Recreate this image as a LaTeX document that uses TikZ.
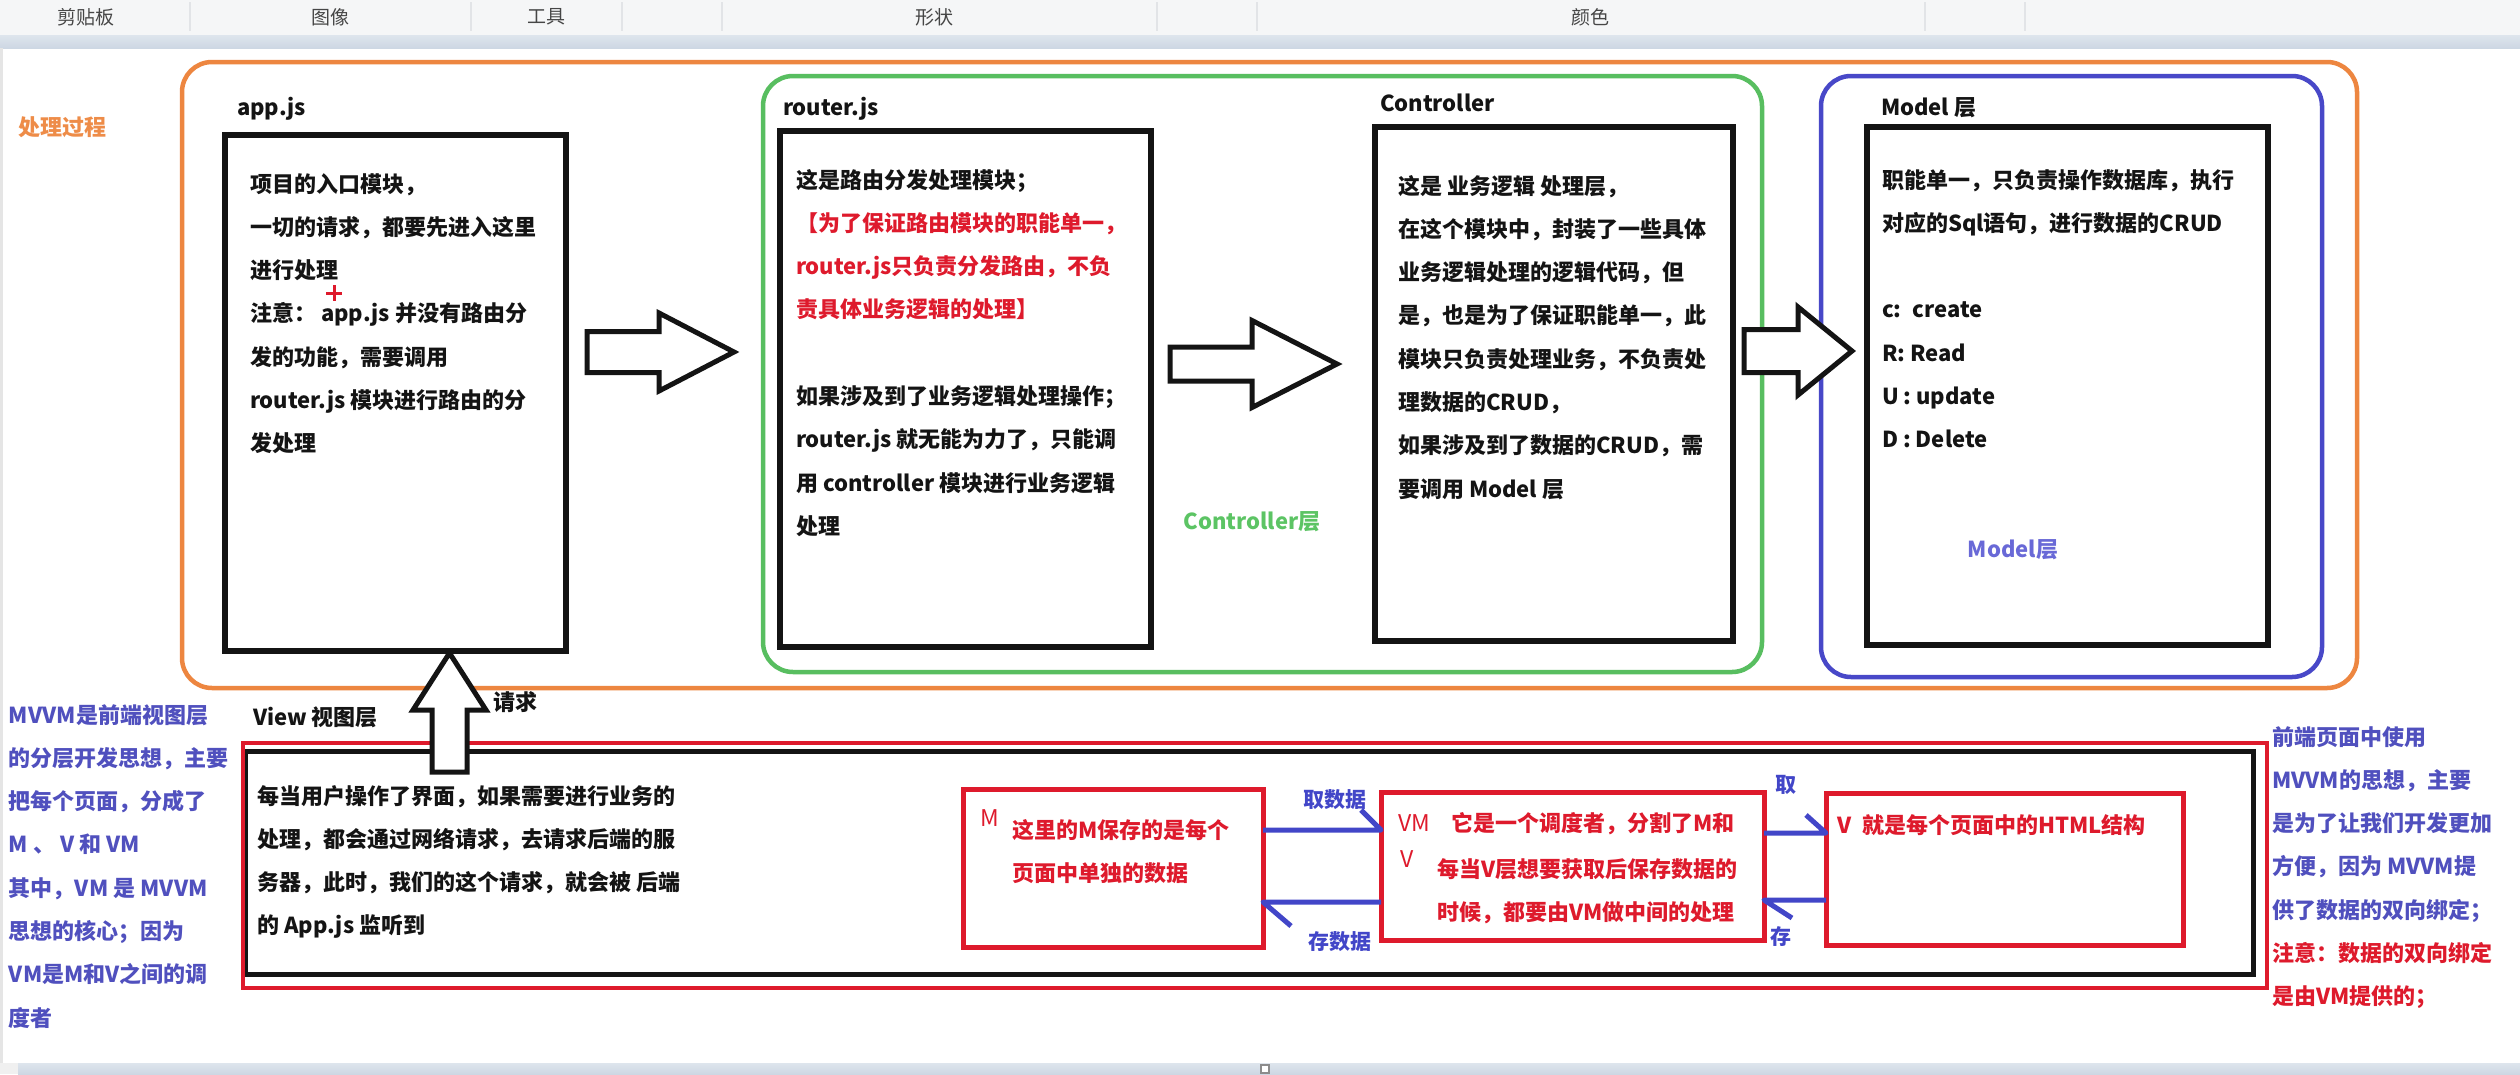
\documentclass[tikz,border=0pt]{standalone}
\usepackage{fontspec}
\setmainfont{Noto Sans CJK SC}
\usetikzlibrary{fit}

\definecolor{ink}{RGB}{20,20,20}
\definecolor{procorange}{RGB}{237,134,64}
\definecolor{ctrlgreen}{RGB}{88,190,96}
\definecolor{modelblue}{RGB}{72,72,200}
\definecolor{vred}{RGB}{222,26,44}
\definecolor{noteblue}{RGB}{80,80,190}
\definecolor{linkblue}{RGB}{66,70,200}
\definecolor{greentxt}{RGB}{92,196,100}
\definecolor{bluetxt}{RGB}{105,105,215}
\definecolor{orangetxt}{RGB}{238,140,72}
\definecolor{barbg}{RGB}{245,246,247}
\definecolor{bandtop}{RGB}{222,229,237}
\definecolor{bandbot}{RGB}{205,215,227}
\definecolor{sepcol}{RGB}{226,228,231}
\definecolor{tooltxt}{RGB}{70,70,70}

% stacked text lines whose baseline is the first line
\newcommand{\textlines}[1]{\begin{tabular}[t]{@{}l@{}}#1\end{tabular}}

% hollow block arrow pointing right:
% #1 tail x, #2 axis y, #3 head base x, #4 tip x, #5 shaft half width, #6 head half width
\newcommand{\hollowright}[6]{%
  \draw[blockarrow] ({#1},{#2-#5}) -- ({#3},{#2-#5}) -- ({#3},{#2-#6}) -- ({#4},{#2})
    -- ({#3},{#2+#6}) -- ({#3},{#2+#5}) -- ({#1},{#2+#5}) -- cycle;}

\begin{document}
\begin{tikzpicture}[x=1pt,y=-1pt,
  every node/.style={inner sep=0pt,outer sep=0pt},
  box/.style={draw=ink,line width=5.5pt,fit={#1},inner sep=0pt},
  frame/.style={line width=4.5pt,rounded corners=30pt,inner sep=0pt},
  redbox/.style={draw=vred,line width=5pt,fit={#1},inner sep=0pt},
  body/.style={anchor=base west,text=ink,font=\bfseries\fontsize{22}{43.3}\selectfont},
  head/.style={anchor=base west,text=ink,font=\bfseries\fontsize{22}{26}\selectfont},
  tag/.style={anchor=base west,text=vred,font=\fontsize{23}{26}\selectfont},
  lbl/.style={text=linkblue,font=\bfseries\fontsize{21}{24}\selectfont},
  tool/.style={text=tooltxt,font=\fontsize{19}{22}\selectfont},
  blockarrow/.style={draw=ink,fill=white,line width=5pt,line join=miter},
  link/.style={draw=linkblue,line width=5pt,line join=round},
]
\useasboundingbox (0,0) rectangle (2520,1074);
\fill[white] (0,0) rectangle (2520,1074);

% ---------- ribbon strip ----------
\fill[barbg] (0,0) rectangle (2520,35);
\shade[top color=bandtop,bottom color=bandbot] (0,35) rectangle (2520,48);
\foreach \sx in {190,471,622,722,1157,1257,1925,2025}
  \draw[sepcol,line width=1.5pt] (\sx,2) -- (\sx,31);
\node[tool] (tclip)  at (86,17)   {剪贴板};
\node[tool] (timg)   at (330,17)  {图像};
\node[tool] (ttools) at (546,17)  {工具};
\node[tool] (tshape) at (934,17)  {形状};
\node[tool] (tcolor) at (1590,17) {颜色};

% ---------- bottom status strip ----------
\fill[black!6] (0,1063) rectangle (18,1074);
\shade[top color=bandtop,bottom color=bandbot] (18,1063) rectangle (2520,1074);
\draw[black!45,line width=1.5pt,fill=white] (1261,1065) rectangle (1269,1073);
\draw[black!10,line width=3pt] (1.5,48) -- (1.5,1063);

% ---------- server side: processing frame ----------
\node[frame,draw=procorange,fit={(182,62) (2357,688)}] (proc) {};
\node[anchor=base west,text=orangetxt,font=\bfseries\fontsize{22}{26}\selectfont] (proclbl) at (19,135) {处理过程};

\node[frame,draw=ctrlgreen,fit={(763,76) (1762,672)}] (ctrlframe) {};
\node[frame,draw=modelblue,fit={(1821,76) (2322,677)}] (modelframe) {};

% app.js
\node[head] (applbl) at (237,115) {app.js};
\node[box={(225,135) (566,651)}] (app) {};
\node[body] (apptxt) at (250,192) {\textlines{项目的入口模块，\\一切的请求，都要先进入这里\\进行处理\\注意： app.js 并没有路由分\\发的功能，需要调用\\router.js 模块进行路由的分\\发处理}};
\draw[vred,line width=3pt] (326,293) -- (342,293) (334,285) -- (334,301);

% router.js
\node[head] (routerlbl) at (783,115) {router.js};
\node[box={(780,131) (1151,647)}] (router) {};
\node[body] (routertxt) at (796,188) {\textlines{这是路由分发处理模块；\\\textcolor{vred}{【为了保证路由模块的职能单一，}\\\textcolor{vred}{router.js只负责分发路由，不负}\\\textcolor{vred}{责具体业务逻辑的处理】}\\ \\如果涉及到了业务逻辑处理操作；\\router.js 就无能为力了，只能调\\用 controller 模块进行业务逻辑\\处理}};

% controller
\node[head] (ctrllbl) at (1380,111) {Controller};
\node[box={(1375,127) (1733,641)}] (ctrl) {};
\node[body] (ctrltxt) at (1398,194) {\textlines{这是 业务逻辑 处理层，\\在这个模块中，封装了一些具体\\业务逻辑处理的逻辑代码，但\\是，也是为了保证职能单一，此\\模块只负责处理业务，不负责处\\理数据的CRUD，\\如果涉及到了数据的CRUD，需\\要调用 Model 层}};
\node[text=greentxt,font=\bfseries\fontsize{22}{26}\selectfont] (ctrlname) at (1252,522) {Controller层};

% model
\node[head] (modellbl) at (1881,115) {Model 层};
\node[box={(1867,127) (2268,645)}] (model) {};
\node[body] (modeltxt) at (1882,188) {\textlines{职能单一，只负责操作数据库，执行\\对应的Sql语句，进行数据的CRUD\\ \\c:\enspace create\\R: Read\\U : update\\D : Delete}};
\node[text=bluetxt,font=\bfseries\fontsize{22}{26}\selectfont] (modelname) at (2013,550) {Model层};

% hand-over arrows between the modules
\hollowright{587}{352}{659}{734}{20.5}{39}
\hollowright{1170}{364}{1252}{1337}{17}{43.5}
\hollowright{1744}{351}{1798}{1852}{21.5}{44}

% ---------- front end: view layer ----------
\node[body,text=noteblue] (mvvmnote) at (9,723) {\textlines{MVVM是前端视图层\\的分层开发思想，主要\\把每个页面，分成了\\M 、 V 和 VM\\其中，VM 是 MVVM\\思想的核心；因为\\VM是M和V之间的调\\度者}};
\node[head] (viewlbl) at (253,725) {View 视图层};

\node[draw=ink,line width=5pt,fit={(245,751) (2253,974)}] (view) {};
\node[draw=vred,line width=3.5pt,fit={(243,743) (2267,988)}] (viewouter) {};

\node[body] (viewtxt) at (257,804) {\textlines{每当用户操作了界面，如果需要进行业务的\\处理，都会通过网络请求，去请求后端的服\\务器，此时，我们的这个请求，就会被 后端\\的 App.js 监听到}};

% request arrow up into app.js
\draw[blockarrow] (432,772) -- (432,710) -- (413,710) -- (449.5,653) -- (486,710) -- (467,710) -- (467,772) -- cycle;
\node[head] (reqlbl) at (493,710) {请求};

% M / VM / V boxes
\node[redbox={(963,789) (1263,947)}] (m) {};
\node[redbox={(1381,792) (1764,940)}] (vm) {};
\node[redbox={(1826,793) (2183,945)}] (v) {};

\node[tag] (mtag) at (980,826) {M};
\node[body,text=vred] (mtxt) at (1012,838) {\textlines{这里的M保存的是每个\\页面中单独的数据}};

\node[tag] (vmtag) at (1398,831) {VM};
\node[tag] (vtag) at (1400,867) {V};
\node[body,text=vred] (vmtxt1) at (1451,831) {它是一个调度者，分割了M和};
\node[body,text=vred] (vmtxt2) at (1437,877) {\textlines{每当V层想要获取后保存数据的\\时候，都要由VM做中间的处理}};

\node[body,text=vred] (vtxt) at (1837,833) {V\enspace 就是每个页面中的HTML结构};

% data flow between M, VM and V, each ending in a single barb
\draw[link] (m.east |- 0,830) -- (vm.west |- 0,830) -- ++(-20,-20);
\draw[link] (vm.west |- 0,902) -- (m.east |- 0,902) -- ++(28,24);
\draw[link] (vm.east |- 0,833) -- (v.west |- 0,833) -- ++(-20,-18);
\draw[link] (v.west |- 0,900) -- (vm.east |- 0,900) -- ++(28,18);

\node[lbl] (getdata) at (1335,800) {取数据};
\node[lbl] (putdata) at (1340,942) {存数据};
\node[lbl] (getv) at (1786,785) {取};
\node[lbl] (putv) at (1781,937) {存};

% right-hand note
\node[body,text=noteblue] (bindnote) at (2272,745) {\textlines{前端页面中使用\\MVVM的思想，主要\\是为了让我们开发更加\\方便，因为 MVVM提\\供了数据的双向绑定；\\\textcolor{vred}{注意：数据的双向绑定}\\\textcolor{vred}{是由VM提供的；}}};
\end{tikzpicture}
\end{document}
